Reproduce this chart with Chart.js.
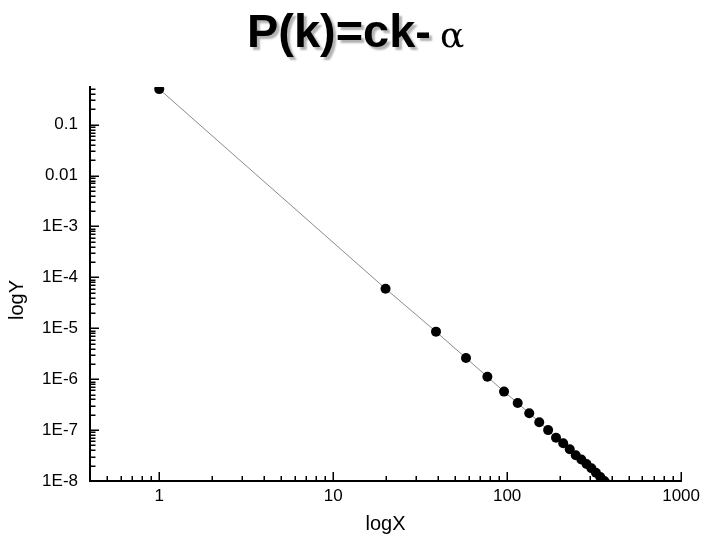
<!DOCTYPE html>
<html>
<head>
<meta charset="utf-8">
<script src="https://cdn.jsdelivr.net/npm/chart.js@4.4.0/dist/chart.umd.min.js"></script>
<style>
  html, body { margin: 0; padding: 0; background: #fff; }
</style>
</head>
<body>
<canvas id="plot" width="705" height="541"></canvas>
<script>
// degree k and probability P(k)
const kValues = [1, 20, 39, 58, 77, 96, 115, 134, 153, 172, 191, 210, 229, 248, 267, 286, 305, 324, 343, 362, 381];
const pValues = [0.5, 6.0e-5, 8.6e-6, 2.6e-6, 1.12e-6, 5.7e-7, 3.4e-7, 2.14e-7, 1.43e-7, 1.0e-7, 7.1e-8,
                 5.5e-8, 4.2e-8, 3.2e-8, 2.65e-8, 2.15e-8, 1.78e-8, 1.45e-8, 1.2e-8, 1.0e-8, 8.5e-9];

const xMajorTicks = [1, 10, 100, 1000];
const xTickLabels = ['1', '10', '100', '1000'];
const yMajorTicks = [0.1, 0.01, 1e-3, 1e-4, 1e-5, 1e-6, 1e-7, 1e-8];
const yTickLabels = ['0.1', '0.01', '1E-3', '1E-4', '1E-5', '1E-6', '1E-7', '1E-8'];
const xRange = [0.4, 1000];
const yRange = [1e-8, 0.55];

const FONT = '"Liberation Sans", Arial, sans-serif';

// 2..9 x 10^n between min and max
function minorTicks(min, max) {
    const out = [];
    for (let e = Math.floor(Math.log10(min)); e <= Math.ceil(Math.log10(max)); e++) {
        for (let m = 2; m <= 9; m++) {
            const v = m * Math.pow(10, e);
            if (v >= min * 0.999 && v <= max * 1.001) out.push(v);
        }
    }
    return out;
}

const innerTicks = {
    id: 'innerTicks',
    afterDraw(chart) {
        const ctx = chart.ctx;
        const xs = chart.scales.x, ys = chart.scales.y;
        const area = chart.chartArea;
        ctx.save();
        ctx.strokeStyle = '#000';
        ctx.lineWidth = 1.5;
        ctx.beginPath();
        minorTicks(xRange[0], xRange[1]).forEach(v => {
            const px = Math.round(xs.getPixelForValue(v)) + 0.25;
            ctx.moveTo(px, area.bottom); ctx.lineTo(px, area.bottom - 5);
        });
        xMajorTicks.forEach(v => {
            const px = Math.round(xs.getPixelForValue(v)) + 0.25;
            ctx.moveTo(px, area.bottom); ctx.lineTo(px, area.bottom - 9);
        });
        minorTicks(yRange[0], yRange[1]).forEach(v => {
            const py = Math.round(ys.getPixelForValue(v)) + 0.25;
            ctx.moveTo(area.left, py); ctx.lineTo(area.left + 5.5, py);
        });
        yMajorTicks.forEach(v => {
            const py = Math.round(ys.getPixelForValue(v)) + 0.25;
            ctx.moveTo(area.left, py); ctx.lineTo(area.left + 9, py);
        });
        ctx.stroke();

        // y axis title
        ctx.fillStyle = '#000';
        ctx.font = '20px ' + FONT;
        ctx.textAlign = 'center';
        ctx.textBaseline = 'middle';
        ctx.translate(17, 300);
        ctx.rotate(-Math.PI / 2);
        ctx.fillText('logY', 0, 0);
        ctx.restore();

        // heading with shadow
        ctx.save();
        ctx.fillStyle = '#000';
        ctx.textBaseline = 'alphabetic';
        ctx.shadowColor = 'rgba(0,0,0,0.3)';
        ctx.shadowOffsetX = 3;
        ctx.shadowOffsetY = 3;
        ctx.shadowBlur = 2;
        ctx.font = 'bold 46px ' + FONT;
        ctx.translate(247, 47);
        ctx.scale(1.02, 1);
        ctx.fillText('P(k)=ck-', 0, 0);
        ctx.restore();
        ctx.save();
        ctx.fillStyle = '#000';
        ctx.font = '36px "DejaVu Serif", serif';
        ctx.fillText('\u03b1', 440, 47);
        ctx.restore();
    }
};

const ctx = document.getElementById('plot').getContext('2d');
const chart = new Chart(ctx, {
    type: 'scatter',
    data: {
        datasets: [{
            data: kValues.map((k, i) => ({x: k, y: pValues[i]})),
            showLine: true,
            borderColor: '#8a8a8a',
            borderWidth: 1,
            pointRadius: 5,
            pointBackgroundColor: '#000',
            pointBorderWidth: 0,
            clip: 0
        }]
    },
    options: {
        responsive: false,
        animation: false,
        layout: { padding: { top: 87, right: 21, left: 0, bottom: 0 } },
        plugins: { legend: { display: false }, tooltip: { enabled: false } },
        scales: {
            x: {
                type: 'logarithmic',
                min: xRange[0],
                max: xRange[1],
                afterFit: s => { s.height = 60; },
                afterBuildTicks: s => { s.ticks = xMajorTicks.map(v => ({value: v})); },
                grid: { display: false, drawTicks: false },
                border: { display: true, color: '#000', width: 2 },
                ticks: {
                    autoSkip: false,
                    maxRotation: 0,
                    padding: 5,
                    color: '#000',
                    font: { family: FONT, size: 17 },
                    callback: (v, i) => xTickLabels[i]
                },
                title: {
                    display: true,
                    text: 'logX',
                    color: '#000',
                    font: { family: FONT, size: 20 },
                    padding: { top: 4, bottom: 5 }
                }
            },
            y: {
                type: 'logarithmic',
                min: yRange[0],
                max: yRange[1],
                afterFit: s => { s.width = 90; },
                afterBuildTicks: s => { s.ticks = yMajorTicks.map(v => ({value: v})); },
                grid: { display: false, drawTicks: false },
                border: { display: true, color: '#000', width: 2 },
                ticks: {
                    autoSkip: false,
                    padding: 12,
                    color: '#000',
                    font: { family: FONT, size: 17 },
                    callback: (v, i) => yTickLabels[i]
                }
            }
        }
    },
    plugins: [innerTicks]
});
</script>
</body>
</html>
